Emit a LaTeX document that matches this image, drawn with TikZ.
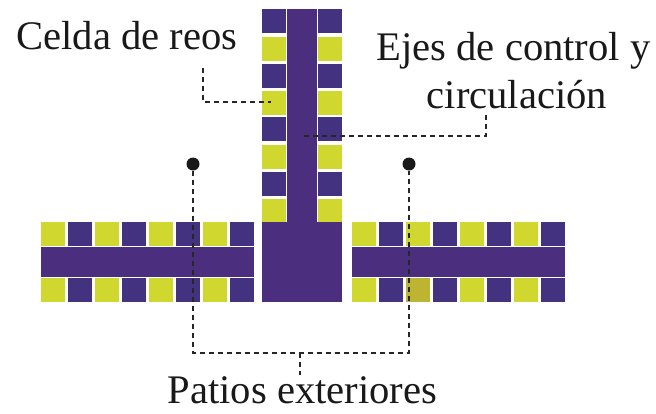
\documentclass[tikz,border=0pt]{standalone}
\usepackage{fontspec}
\setmainfont{Liberation Serif}
\definecolor{navycell}{HTML}{42327F}
\definecolor{navybar}{HTML}{4B2E7E}
\definecolor{limecell}{HTML}{D0D82F}
\definecolor{olivecell}{HTML}{BDB532}
\begin{document}
\begin{tikzpicture}[x=1pt,y=-1pt,cell node/.style={rectangle,anchor=north west,inner sep=0pt,minimum width=24pt,minimum height=24pt},lime node/.style={cell node,fill=limecell},navy node/.style={cell node,fill=navycell},bar node/.style={rectangle,anchor=north west,inner sep=0pt,fill=navybar},label node/.style={font=\fontsize{40.6}{40.6}\selectfont,inner sep=0pt,text=black!90},dot node/.style={circle,fill=black!90,minimum size=13pt,inner sep=0pt},lead/.style={line width=1.8pt,black!85,dash pattern=on 5pt off 4pt}]
\useasboundingbox (0,0) rectangle (656,413);
% patio wings
\begin{scope}
\foreach \i/\style in {0/lime node,1/navy node,2/lime node,3/navy node,4/lime node,5/navy node,6/lime node,7/navy node}{
\node[\style] (lt\i) at (41+27*\i,222) {};
\node[\style] (lb\i) at (41+27*\i,278) {};
\node[\style] (rt\i) at (352+27*\i,222) {};
\node[\style] (rb\i) at (352+27*\i,278) {};
}
\node[cell node,fill=olivecell] (rb2b) at (406,278) {};
\node[bar node,minimum width=213pt,minimum height=30pt] (lbar) at (41,247) {};
\node[bar node,minimum width=213pt,minimum height=30pt] (rbar) at (352,247) {};
\end{scope}
% central axis
\begin{scope}
\foreach \i/\style/\y in {0/navy node/9,1/lime node/37,2/navy node/64,3/lime node/91,4/navy node/117,5/lime node/145,6/navy node/172,7/lime node/199}{
\node[\style] (cl\i) at (262,\y) {};
\node[\style] (cr\i) at (318,\y) {};
}
\node[bar node,minimum width=30pt,minimum height=214pt] (stem) at (287,9) {};
\node[bar node,minimum width=80pt,minimum height=80pt] (block) at (262,222) {};
\end{scope}
% labels
\begin{scope}[every node/.style={label node}]
\node[anchor=base] (celda) at (127,49) {Celda de reos};
\node[anchor=base] (ejes) at (513.5,60) {Ejes de control y};
\node[anchor=base] (circ) at (517,108) {circulación};
\node[anchor=base] (patios) at (302.5,403) {Patios exteriores};
\end{scope}
\node[dot node] (d1) at (193,164) {};
\node[dot node] (d2) at (409,164) {};
\coordinate (c1) at (203,68);
\coordinate (c2) at (203,102);
\coordinate (c3) at (271,102);
\coordinate (e1) at (486,115);
\coordinate (e2) at (486,136);
\coordinate (e3) at (303,136);
\coordinate (p1) at (193,353);
\coordinate (p2) at (409,353);
\coordinate (p3) at (300,353);
\coordinate (p4) at (300,375);
% leaders
\begin{scope}[lead]
\draw (c1) -- (c2) -- (c3);
\draw (e1) -- (e2) -- (e3);
\draw (d1) -- (p1) -- (p2) -- (d2);
\draw (p3) -- (p4);
\end{scope}
\end{tikzpicture}
\end{document}
